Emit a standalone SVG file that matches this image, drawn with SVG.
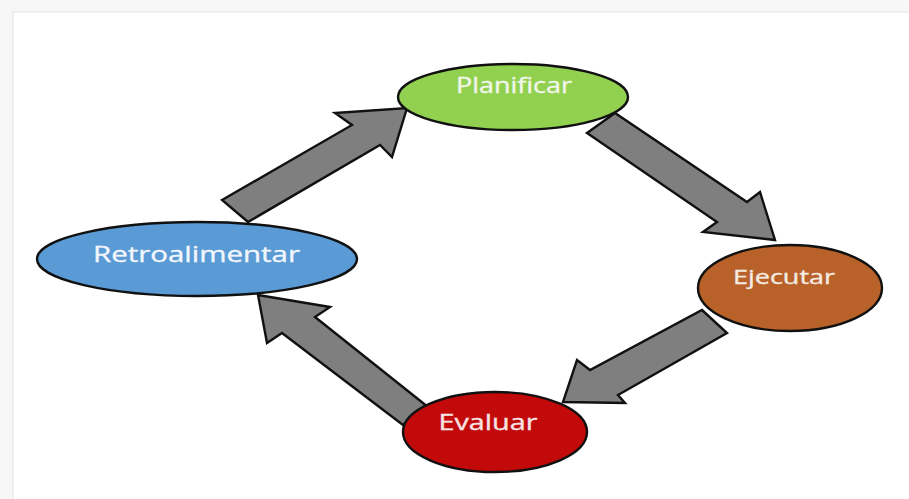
<svg xmlns="http://www.w3.org/2000/svg" width="909" height="499" viewBox="0 0 909 499">
  <defs>
    <filter id="soft" x="-50%" y="-5%" width="200%" height="110%">
      <feGaussianBlur stdDeviation="1.2"/>
    </filter>
    <style>
      .arrow { fill: #7f7f7f; stroke: #111; stroke-width: 2.4; stroke-linejoin: miter; }
      .node { stroke: #111; stroke-width: 2.4; }
      .label { font-family: "Open Sans", "Noto Sans", sans-serif; text-anchor: middle; stroke-width: 0.35; }
    </style>
  </defs>

  <!-- page background and sheet edge -->
  <rect x="0" y="0" width="909" height="499" fill="#f7f7f7"/>
  <rect x="13" y="12" width="900" height="492" fill="#ffffff" stroke="#e2e2e2" stroke-width="1"/>
  <line x1="12.5" y1="13" x2="12.5" y2="499" stroke="#b5b5b5" stroke-width="3" filter="url(#soft)"/>

  <!-- connectors: block arrows of the cycle -->
  <g id="connectors">
    <polygon class="arrow" points="222,200 352,125 335,113 407,108 392,157 380,145 248,222"/>
    <polygon class="arrow" points="587,133 615,113 747,202 760,192 775,240 703,232 717,222"/>
    <polygon class="arrow" points="702,310 727,333 618,395 625,403 563,402 577,360 590,370"/>
    <polygon class="arrow" points="258,295 330,307 315,317 428,407 403,425 282,333 267,343"/>
  </g>

  <g id="planificar">
    <ellipse class="node" cx="513" cy="97" rx="115" ry="33" fill="#92d050"/>
    <text class="label" x="514" y="93" font-size="21" fill="#f1f6ea" stroke="#f1f6ea" textLength="116" lengthAdjust="spacingAndGlyphs">Planificar</text>
  </g>

  <g id="ejecutar">
    <ellipse class="node" cx="790" cy="288" rx="92" ry="43" fill="#b8622a"/>
    <text class="label" x="784" y="284" font-size="20" fill="#f4ebe2" stroke="#f4ebe2" textLength="102" lengthAdjust="spacingAndGlyphs">Ejecutar</text>
  </g>

  <g id="evaluar">
    <ellipse class="node" cx="495" cy="432" rx="92" ry="40" fill="#c20a0a"/>
    <text class="label" x="488" y="430" font-size="21" fill="#f6e2e2" stroke="#f6e2e2" textLength="99" lengthAdjust="spacingAndGlyphs">Evaluar</text>
  </g>

  <g id="retroalimentar">
    <ellipse class="node" cx="197" cy="259" rx="160" ry="37" fill="#5b9bd5"/>
    <text class="label" x="196.5" y="262" font-size="22" fill="#f2f6fb" stroke="#f2f6fb" textLength="207" lengthAdjust="spacingAndGlyphs">Retroalimentar</text>
  </g>
</svg>
